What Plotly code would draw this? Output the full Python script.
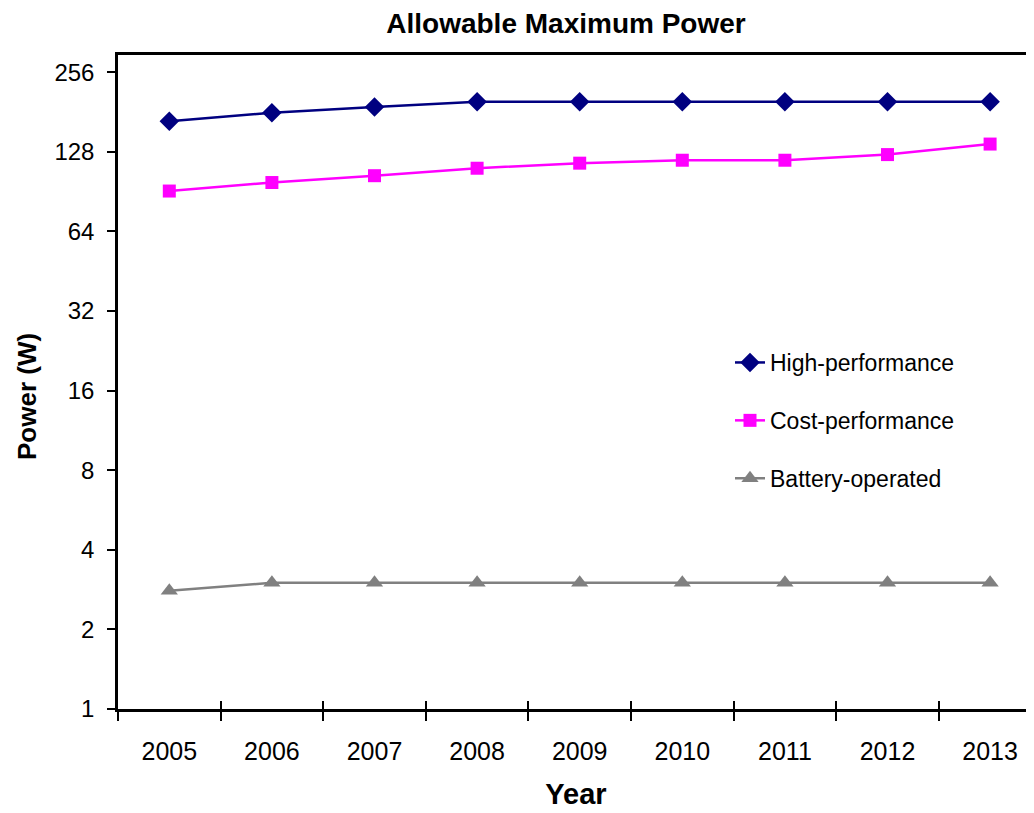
import math
import plotly.graph_objects as go

years = ["2005", "2006", "2007", "2008", "2009", "2010", "2011", "2012", "2013"]
high_perf = [167, 180, 189, 198, 198, 198, 198, 198, 198]
cost_perf = [91, 98, 104, 111, 116, 119, 119, 125, 137]
battery = [2.8, 3, 3, 3, 3, 3, 3, 3, 3]
y_ticks = [1, 2, 4, 8, 16, 32, 64, 128, 256]

FONT = "Liberation Sans, Arial, sans-serif"
# page body has an 8px margin, so the figure is drawn 8px right/down
W, H = 1026, 805
L, R, T, B = 110, 0, 47, 104
cat_px = 102.6
plot_w = W - L - R
plot_h = H - T - B
x_hi = -0.5 + plot_w / cat_px
y_top = math.log10(2) * 8.217

fig = go.Figure()
fig.add_trace(go.Scatter(x=years, y=high_perf, name="High-performance", mode="lines+markers",
                         legendgroup="a",
                         line=dict(color="#000080", width=2.5),
                         marker=dict(symbol="diamond", size=15, color="#000080")))
fig.add_trace(go.Scatter(x=years, y=cost_perf, name="Cost-performance", mode="lines+markers",
                         legendgroup="b",
                         line=dict(color="#FF00FF", width=2.5),
                         marker=dict(symbol="square", size=13, color="#FF00FF")))
fig.add_trace(go.Scatter(x=years, y=battery, name="Battery-operated", mode="lines+markers",
                         legendgroup="c",
                         line=dict(color="#808080", width=2.5),
                         marker=dict(symbol="triangle-up", size=15, color="#808080")))
# empty trace so the overlaid tick axis (inner half of the crossing ticks) is drawn
fig.add_trace(go.Scatter(x=[], y=[], xaxis="x2", showlegend=False, hoverinfo="skip"))

fig.update_layout(
    width=W, height=H,
    margin=dict(l=L, r=R, t=T, b=B, autoexpand=False),
    paper_bgcolor="white", plot_bgcolor="white",
    font=dict(family=FONT, color="black"),
    title=dict(text="<b>Allowable Maximum Power</b>", x=558 / W, xanchor="center", xref="container",
               y=1.0, yanchor="top", yref="container", pad=dict(t=5),
               font=dict(size=28, family=FONT, color="black")),
    xaxis=dict(type="category", categoryorder="array", categoryarray=years,
               range=[-0.5, x_hi], tickson="boundaries", ticks="outside", ticklen=9,
               tickwidth=1.5, tickcolor="black", showline=True, linecolor="black", linewidth=2.5,
               mirror=True, showgrid=False, zeroline=False,
               tickfont=dict(size=25, family=FONT), ticklabelstandoff=18,
               title=dict(text="<b>Year</b>", font=dict(size=29, family=FONT), standoff=20)),
    xaxis2=dict(overlaying="x", anchor="y", range=[-0.5, x_hi],
                tickvals=[i - 0.5 for i in range(len(years) + 1)],
                ticks="inside", ticklen=8, tickwidth=1.5, tickcolor="black",
                showticklabels=False, showline=False, showgrid=False, zeroline=False,
                side="bottom"),
    yaxis=dict(type="log", range=[0, y_top], tickvals=y_ticks, ticktext=[str(v) for v in y_ticks],
               ticks="outside", ticklen=8, tickwidth=1.5, tickcolor="black",
               showline=True, linecolor="black", linewidth=2.5, mirror=False,
               showgrid=False, zeroline=False,
               tickfont=dict(size=24, family=FONT), ticklabelstandoff=8),
    annotations=[dict(text="<b>Power (W)</b>", textangle=-90, showarrow=False,
                      xref="paper", yref="paper",
                      x=(19 - L) / plot_w, y=1 - (389 - T) / plot_h,
                      xanchor="center", yanchor="middle",
                      font=dict(size=26, family=FONT, color="black"))],
    legend=dict(x=(722 - L) / plot_w, y=(H - B - 333) / plot_h, xanchor="left", yanchor="top",
                font=dict(size=23, family=FONT), bgcolor="rgba(0,0,0,0)",
                tracegroupgap=25, traceorder="grouped", itemwidth=30),
    showlegend=True,
)

fig.write_html("out.html")
